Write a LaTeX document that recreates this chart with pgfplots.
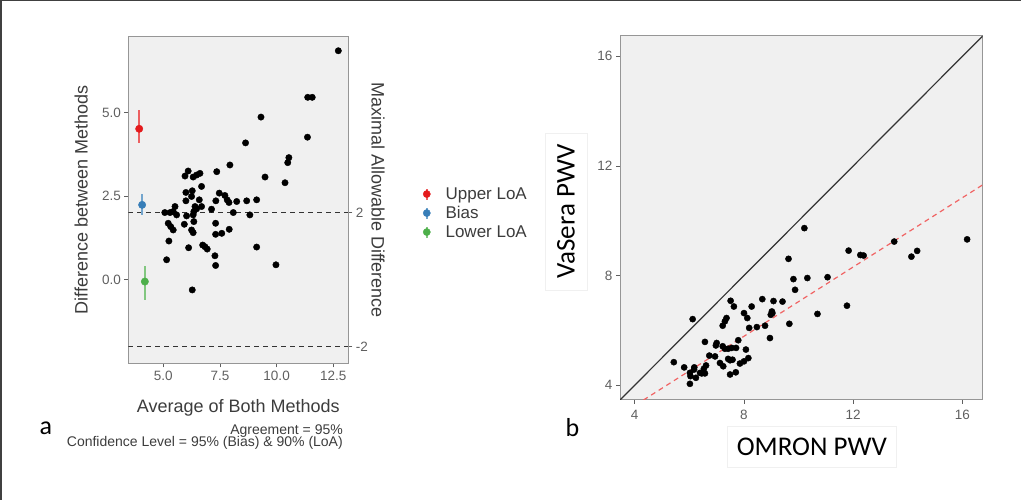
\documentclass[border=0pt]{standalone}
\usepackage{fontspec}
\setmainfont{Liberation Sans}
\newfontfamily\calibri{Carlito}
\usepackage{pgfplots}
\pgfplotsset{compat=1.18}
\definecolor{panelbg}{RGB}{240,240,240}
\definecolor{framegray}{RGB}{150,150,150}
\definecolor{tickgray}{RGB}{95,95,95}
\definecolor{titlegray}{RGB}{60,60,60}
\definecolor{loared}{RGB}{228,26,28}
\definecolor{loablue}{RGB}{55,126,184}
\definecolor{loagreen}{RGB}{77,175,74}
\definecolor{fitred}{RGB}{240,100,100}

\pgfplotsset{
  ggbase/.style={
    scale only axis,
    axis background/.style={fill=panelbg},
    axis line style={framegray, line width=1pt},
    tick align=outside,
    major tick length=4pt,
    tick style={tickgray, line width=0.8pt},
    ticklabel style={font=\fontsize{13.5}{14}\selectfont, text=tickgray},
    /pgf/number format/assume math mode=true,
    label style={font=\fontsize{18}{20}\selectfont, text=titlegray},
  },
  % legend glyph: point with a vertical interval through it
  loakey/.style={legend image code/.code={%
    \draw[#1!70, line width=1.6pt] (0.3em,-0.55em) -- (0.3em,0.55em);
    \fill[#1] (0.3em,0) circle (3.6pt);}},
}

\begin{document}
\begin{tikzpicture}[x=1pt,y=1pt]
\path[use as bounding box] (0,0) rectangle (1021,500);
\draw[black!75, line width=2pt] (1,0) -- (1,500);
\draw[black!75, line width=1pt] (0,499.5) -- (1021,499.5);

% ---------- panel a ----------
\begin{axis}[ggbase, tick pos=left,
  at={(128.3pt,136.7pt)}, anchor=south west,
  width=220pt, height=326.6pt,
  xmin=3.46, xmax=13.16, ymin=-2.49, ymax=7.26,
  xtick={5,7.5,10,12.5}, ytick={0,2.5,5},
  xticklabel={\pgfmathprintnumber[fixed,fixed zerofill,precision=1]{\tick}},
  yticklabel={\pgfmathprintnumber[fixed,fixed zerofill,precision=1]{\tick}},
  xlabel={Average of Both Methods},
  xlabel style={at={(axis description cs:0.5,-0.152)}, anchor=base},
  ylabel={Difference between Methods},
  ylabel style={at={(axis description cs:-0.214,0.5)}, anchor=center},
  legend style={at={(axis description cs:1.325,0.46)}, anchor=west,
    draw=none, fill=none, font=\fontsize{17}{19}\selectfont,
    text=titlegray, row sep=4.5pt, nodes={inner ysep=0.5pt}},
  legend cell align=left,
]
\addplot[forget plot, black!80, line width=1.2pt, dash pattern=on 5pt off 4pt]
  coordinates {(3.46,2) (13.16,2)};
\addplot[forget plot, black!80, line width=1.2pt, dash pattern=on 5pt off 4pt]
  coordinates {(3.46,-2) (13.16,-2)};
\addplot[forget plot, only marks, mark=*, mark size=3.2pt, black] table {
x y
12.72 6.84
11.37 5.45
11.57 5.45
9.31 4.86
11.36 4.26
8.63 4.09
10.54 3.65
10.49 3.50
7.94 3.43
9.49 3.07
10.37 2.90
7.36 3.23
6.10 3.25
5.96 3.10
6.62 3.18
6.47 3.13
6.32 3.07
6.69 2.79
6.00 2.61
6.28 2.66
6.25 2.49
6.00 2.36
6.59 2.39
7.32 2.36
7.47 2.59
7.72 2.52
7.82 2.39
7.90 2.31
8.24 2.34
8.68 2.36
9.12 2.39
5.52 2.19
6.40 2.19
6.69 2.19
6.47 2.12
7.13 2.11
5.07 2.01
5.30 2.01
5.44 2.04
5.59 1.94
6.03 1.91
6.35 2.04
6.32 1.94
8.09 2.01
8.82 1.94
5.22 1.69
5.33 1.59
5.44 1.49
5.93 1.66
6.35 1.74
7.31 1.69
6.25 1.49
6.32 1.41
7.31 1.36
7.58 1.39
7.91 1.51
5.25 1.16
6.12 0.96
6.74 1.04
6.84 0.99
6.94 0.92
9.12 0.98
7.28 0.72
5.15 0.60
7.31 0.43
9.97 0.45
6.28 -0.30
};
\addplot[only marks, mark=*, mark size=3.7pt, loared, loakey=loared,
  error bars/.cd, y dir=both, y explicit, error mark=none,
  error bar style={line width=1.6pt, loared!70}]
  coordinates {(3.94,4.51) += (0,0.56) -= (0,0.43)};
\addlegendentry{\hspace{13pt}Upper LoA}
\addplot[only marks, mark=*, mark size=3.7pt, loablue, loakey=loablue,
  error bars/.cd, y dir=both, y explicit, error mark=none,
  error bar style={line width=1.6pt, loablue!70}]
  coordinates {(4.07,2.24) += (0,0.33) -= (0,0.30)};
\addlegendentry{\hspace{13pt}Bias}
\addplot[only marks, mark=*, mark size=3.7pt, loagreen, loakey=loagreen,
  error bars/.cd, y dir=both, y explicit, error mark=none,
  error bar style={line width=1.6pt, loagreen!70}]
  coordinates {(4.19,-0.05) += (0,0.45) -= (0,0.55)};
\addlegendentry{\hspace{13pt}Lower LoA}
\end{axis}

% secondary axis of panel a (right side)
\begin{axis}[ggbase,
  at={(128.3pt,136.7pt)}, anchor=south west,
  width=220pt, height=326.6pt,
  axis background/.style={},
  xmin=3.46, xmax=13.16, ymin=-2.49, ymax=7.26,
  axis x line=none, axis y line*=right,
  ytick pos=right, yticklabel pos=right,
  ytick={-2,2}, yticklabels={-2,2},
  ylabel={Maximal Allowable Difference},
  ylabel style={rotate=180, at={(axis description cs:1.135,0.5)}, anchor=center},
]
\addplot[draw=none, forget plot] coordinates {(5,0)};
\end{axis}

\node[anchor=base west, font=\calibri\fontsize{26}{28}\selectfont] at (36,65) {a};
\node[anchor=base east, font=\fontsize{14}{16}\selectfont, text=titlegray, inner sep=0pt] at (343,65) {Agreement = 95\%};
\node[anchor=base east, font=\fontsize{14}{16}\selectfont, text=titlegray, inner sep=0pt] at (343,53) {Confidence Level = 95\% (Bias) \& 90\% (LoA)};

% ---------- panel b ----------
\begin{axis}[ggbase, tick pos=left,
  at={(620pt,100pt)}, anchor=south west,
  width=362.7pt, height=364pt,
  xmin=3.46, xmax=16.74, ymin=3.46, ymax=16.74,
  xtick={4,8,12,16}, ytick={4,8,12,16},
  xticklabel style={yshift=-3pt},
  xlabel={OMRON PWV},
  xlabel style={font=\calibri\fontsize{27}{30}\selectfont, text=black,
    draw=gray!12, minimum width=169pt, minimum height=41pt,
    at={(axis description cs:0.529,-0.129)}, anchor=center},
  ylabel={VaSera PWV},
  ylabel style={font=\calibri\fontsize{27}{30}\selectfont, text=black,
    draw=gray!12, minimum width=157pt, minimum height=42pt,
    at={(axis description cs:-0.149,0.518)}, anchor=center},
]
\addplot[black!80, line width=1.2pt] coordinates {(3.46,3.46) (16.74,16.74)};
\addplot[fitred, line width=1.2pt, dash pattern=on 5pt off 4pt]
  coordinates {(4.32,3.46) (16.74,11.31)};
\addplot[only marks, mark=*, mark size=3.1pt, black] table {
x y
10.21 9.73
16.17 9.32
13.50 9.24
11.83 8.91
14.34 8.90
14.13 8.69
12.26 8.75
12.38 8.73
9.63 8.61
9.81 7.87
10.32 7.91
11.06 7.94
9.87 7.48
11.77 6.90
10.69 6.60
9.66 6.24
8.95 5.72
8.67 7.14
9.08 7.07
9.41 7.05
9.02 6.69
8.98 6.57
9.04 6.63
8.77 6.17
8.47 6.12
8.19 6.09
8.28 6.87
8.00 6.63
8.12 6.45
7.51 7.08
7.63 6.87
7.36 6.45
7.30 6.33
7.22 6.17
6.12 6.41
6.57 5.58
7.00 5.54
6.97 5.45
7.22 5.42
7.30 5.33
7.42 5.33
7.55 5.36
7.71 5.36
7.79 5.64
8.07 5.30
6.73 5.08
6.94 5.05
7.42 4.96
7.58 4.93
7.49 4.91
8.16 4.99
8.00 4.87
7.85 4.79
7.12 4.81
7.24 4.69
7.49 4.39
7.70 4.47
5.43 4.84
5.81 4.65
6.18 4.65
6.17 4.57
6.61 4.72
6.53 4.60
6.02 4.45
6.04 4.33
6.24 4.27
6.45 4.43
6.57 4.43
6.39 4.45
6.02 4.05
};
\end{axis}

\node[anchor=base west, font=\calibri\fontsize{26}{28}\selectfont] at (562,63) {b};
\end{tikzpicture}
\end{document}
